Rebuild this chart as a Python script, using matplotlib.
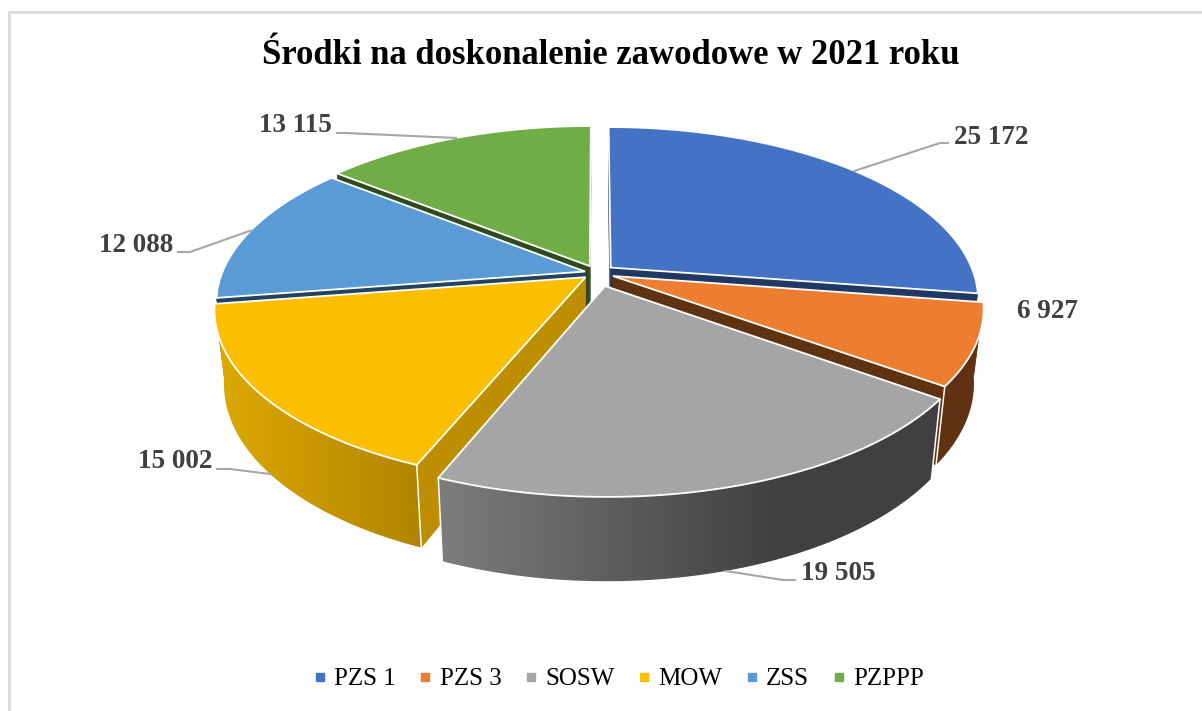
import numpy as np
import matplotlib
matplotlib.use("Agg")
import matplotlib.pyplot as plt
from matplotlib.colors import LinearSegmentedColormap
from matplotlib.lines import Line2D
from matplotlib.patches import Polygon

# ---------- data ----------
categories = ["PZS 1", "PZS 3", "SOSW", "MOW", "ZSS", "PZPPP"]
values = [25172, 6927, 19505, 15002, 12088, 13115]
value_labels = ["25 172", "6 927", "19 505", "15 002", "12 088", "13 115"]
title = "Środki na doskonalenie zawodowe w 2021 roku"

# ---------- style ----------
explode = [0.05, 0.047, 0.08, 0.04, 0.034, 0.046]
top_colors = ["#4472C4", "#ED7D31", "#A5A5A5", "#FBBF00", "#5B9BD5", "#70AD47"]
face_colors = ["#203864", "#5F3211", "#404040", "#BC8E00", "#23425F", "#2F4A1E"]
wall_light = ["#203864", "#5F3211", "#7C7C7C", "#DBA700", "#23425F", "#2F4A1E"]
wall_dark = ["#203864", "#5F3211", "#404040", "#B08400", "#23425F", "#2F4A1E"]
wall_span = [None, None, (442, 780), (225, 425), None, None]
draw_order = [5, 0, 4, 1, 3, 2]
FONT = ["Liberation Serif", "DejaVu Serif"]

# projection of the tilted disc (figure pixels)
CX, CY, RX, RY, PERSP, BOTTOM_SCALE, DEPTH = 597, 273, 363, 167.6, 0.18, 0.975, 72.5


def project(X, Y, bottom=False):
    w = 1 + PERSP * Y
    sx, sy = RX * X / w, RY * Y / w
    if bottom:
        return CX + sx * BOTTOM_SCALE, CY - sy * BOTTOM_SCALE + DEPTH / w
    return CX + sx, CY - sy


def rim(theta, mid, e, bottom=False):
    return project(np.sin(theta) + e * np.sin(mid), np.cos(theta) + e * np.cos(mid), bottom)


fig = plt.figure(figsize=(12.02, 7.11), dpi=100, facecolor="white")
ax = fig.add_axes([0, 0, 1, 1])
ax.axis("off")

ax.plot([9, 9, 1202], [711, 12, 12], color="#DADADA", lw=2, solid_joinstyle="miter")

total = sum(values)
bounds = np.concatenate([[0], np.cumsum(values)]) / total * 2 * np.pi

for i in draw_order:
    a0, a1 = bounds[i], bounds[i + 1]
    mid, e = (a0 + a1) / 2, explode[i]
    th = np.linspace(a0, a1, 160)
    ax0, ay0 = project(e * np.sin(mid), e * np.cos(mid))
    bx0, by0 = project(e * np.sin(mid), e * np.cos(mid), True)
    tx, ty = rim(th, mid, e)
    bx, by = rim(th, mid, e, True)

    # radial cut faces
    for k in (0, -1):
        ax.fill([ax0, tx[k], bx[k], bx0], [ay0, ty[k], by[k], by0],
                color=face_colors[i], lw=0.3, zorder=2)

    # outer wall, with a horizontal shade where the slice has one
    wall_xy = np.c_[np.r_[tx, bx[::-1]], np.r_[ty, by[::-1]]]
    if wall_span[i] is None:
        ax.add_patch(Polygon(wall_xy, closed=True, facecolor=wall_light[i], edgecolor="none", zorder=2))
    else:
        x0, x1 = wall_span[i]
        cmap = LinearSegmentedColormap.from_list("wall", [wall_light[i], wall_dark[i]])
        grad = np.clip((np.linspace(0, 1202, 1203) - x0) / (x1 - x0), 0, 1)[None, :]
        im = ax.imshow(grad, cmap=cmap, vmin=0, vmax=1, extent=(0, 1202, 711, 0),
                       aspect="auto", interpolation="bilinear", zorder=2)
        clip = Polygon(wall_xy, closed=True, transform=ax.transData)
        im.set_clip_path(clip)

    # white verticals on the wall ends facing the viewer
    for k in (0, -1):
        if np.cos(th[k]) < -0.5:
            ax.plot([tx[k], bx[k]], [ty[k], by[k]], color="white", lw=1.1, zorder=2)

    # top surface
    ax.fill(np.r_[ax0, tx], np.r_[ay0, ty], facecolor=top_colors[i], edgecolor="white",
            lw=1.3, joinstyle="miter", zorder=2)

# leader lines start at the slice's rim, centre angle
leader_elbows = {
    0: [(940, 143), (948, 143)],
    2: [(783, 580), (795, 580)],
    3: [(230, 469), (217, 469)],
    4: [(190, 252), (178, 252)],
    5: [(345, 133), (337, 133)],
}
for i, pts in leader_elbows.items():
    mid = (bounds[i] + bounds[i + 1]) / 2
    sx, sy = rim(mid, mid, explode[i], bottom=i in (2, 3))
    ax.plot([sx] + [p[0] for p in pts], [sy] + [p[1] for p in pts], color="#A6A6A6", lw=1.5, zorder=3)

label_pos = [(991, 137), (1047, 311), (838, 573), (175, 462), (136, 245), (295, 126)]
for s, (x, y) in zip(value_labels, label_pos):
    ax.text(x, y, s, family=FONT, weight="bold", size=19.5, color="#404040",
            ha="center", va="center", zorder=4)

ax.text(611, 56, title, family=FONT, weight="bold", size=24.9, color="black", ha="center", va="center")

ax.set_xlim(0, 1202)
ax.set_ylim(711, 0)

handles = [Line2D([], [], ls="none", marker="s", ms=6, mfc=c, mec=c) for c in top_colors]
ax.legend(handles, categories, loc="center", bbox_to_anchor=(618 / 1202, 1 - 679 / 711), ncol=6,
          frameon=False, prop={"family": FONT, "size": 18}, handlelength=0.6,
          handletextpad=0.27, columnspacing=0.88)

fig.savefig("out.png", dpi=100, facecolor="white")
